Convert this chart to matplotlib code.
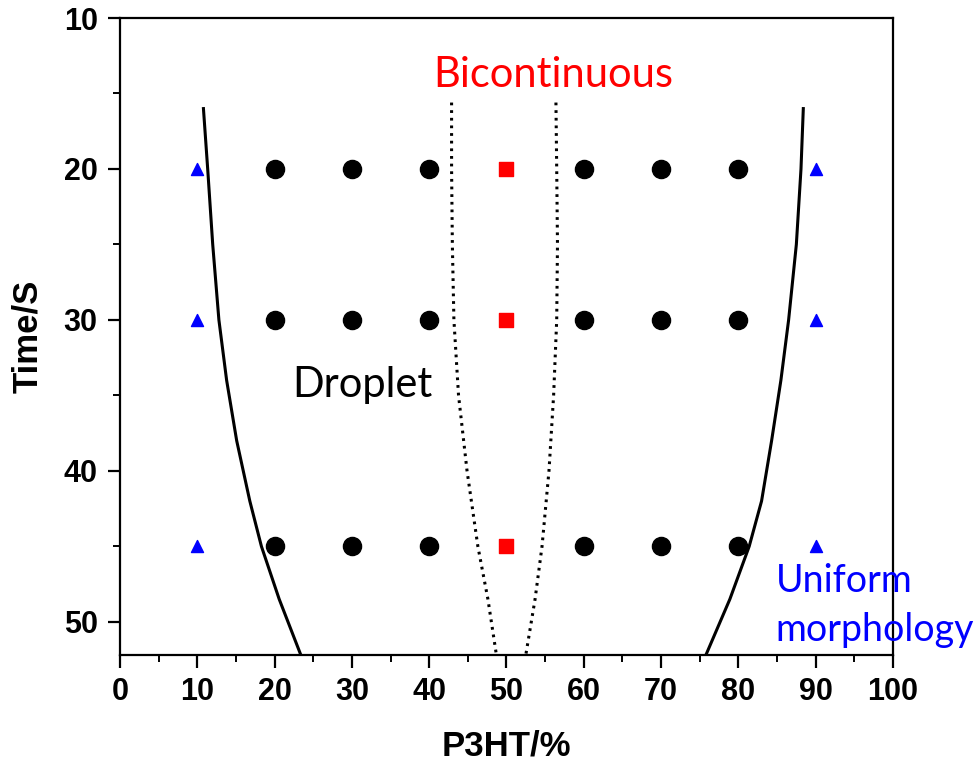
import matplotlib.pyplot as plt
from matplotlib.ticker import MultipleLocator

# sample grid (P3HT %, time in s)
uniform_x = [10, 10, 10, 90, 90, 90]
uniform_y = [20, 30, 45, 20, 30, 45]
droplet_x = [20, 30, 40, 60, 70, 80] * 3
droplet_y = [20] * 6 + [30] * 6 + [45] * 6
bicont_x = [50, 50, 50]
bicont_y = [20, 30, 45]

# phase boundaries
left_bx = [10.8, 11.35, 12.0, 12.8, 13.8, 15.1, 16.8, 18.3, 20.6, 23.4]
left_by = [16.0, 20.0, 25.0, 30.0, 34.0, 38.0, 42.0, 45.0, 48.5, 52.2]
right_bx = [88.4, 88.1, 87.5, 86.5, 85.5, 84.3, 83.0, 81.4, 78.9, 75.8]
right_by = [16.0, 20.0, 25.0, 30.0, 34.0, 38.0, 42.0, 45.0, 48.5, 52.2]
dot_left_x = [42.9, 42.9, 43.0, 43.2, 43.8, 44.9, 46.3, 47.6, 48.7]
dot_left_y = [15.6, 20.0, 25.0, 30.0, 35.0, 40.0, 45.0, 48.5, 52.2]
dot_right_x = [56.4, 56.5, 56.6, 56.5, 56.1, 55.5, 54.6, 53.7, 52.5]
dot_right_y = [15.6, 20.0, 25.0, 30.0, 35.0, 40.0, 45.0, 48.5, 52.2]

fig = plt.figure(figsize=(9.8, 7.67), dpi=100)
ax = fig.add_axes([0.1224, 0.146, 0.7888, 0.8305])

ax.plot(left_bx, left_by, color='black', lw=2.2, solid_joinstyle='round')
ax.plot(right_bx, right_by, color='black', lw=2.2, solid_joinstyle='round')
ax.plot(dot_left_x, dot_left_y, color='black', lw=2.2, linestyle=(0, (0.9, 1.6)))
ax.plot(dot_right_x, dot_right_y, color='black', lw=2.2, linestyle=(0, (0.9, 1.6)))

ax.scatter(droplet_x, droplet_y, s=170, marker='o', color='black', zorder=3)
ax.scatter(bicont_x, bicont_y, s=110, marker='s', color='#ff0000', zorder=3)
ax.scatter(uniform_x, uniform_y, s=75, marker='^', color='#0000ff', zorder=3)

ax.set_xlim(0, 100)
ax.set_ylim(52.2, 10)
ax.xaxis.set_major_locator(MultipleLocator(10))
ax.xaxis.set_minor_locator(MultipleLocator(5))
ax.yaxis.set_major_locator(MultipleLocator(10))
ax.yaxis.set_minor_locator(MultipleLocator(5))

for sp in ax.spines.values():
    sp.set_linewidth(1.6)
ax.tick_params(which='major', direction='out', length=9, width=1.6,
               labelsize=22, pad=7)
ax.tick_params(which='minor', direction='out', length=5, width=1.4)
ax.tick_params(top=False, right=False)
for lab in ax.get_xticklabels() + ax.get_yticklabels():
    lab.set_fontfamily('Liberation Sans')
    lab.set_fontweight('bold')

ax.set_xlabel('P3HT/%', fontsize=25, fontweight='bold',
              fontfamily='Liberation Sans', labelpad=16)
ax.set_ylabel('Time/S', fontsize=25, fontweight='bold',
              fontfamily='Liberation Sans', labelpad=14)

ax.text(56.0, 13.8, 'Bicontinuous', color='#ff0000', fontsize=30,
        fontfamily='Lato', ha='center', va='center')
ax.text(31.4, 34.3, 'Droplet', color='black', fontsize=30,
        fontfamily='Lato', ha='center', va='center')
ax.text(84.8, 48.9, 'Uniform\nmorphology', color='#0000ff', fontsize=27,
        fontfamily='Lato', ha='left', va='center', linespacing=1.45,
        clip_on=False, zorder=5)

fig.savefig('out.png', dpi=100, facecolor='white')
